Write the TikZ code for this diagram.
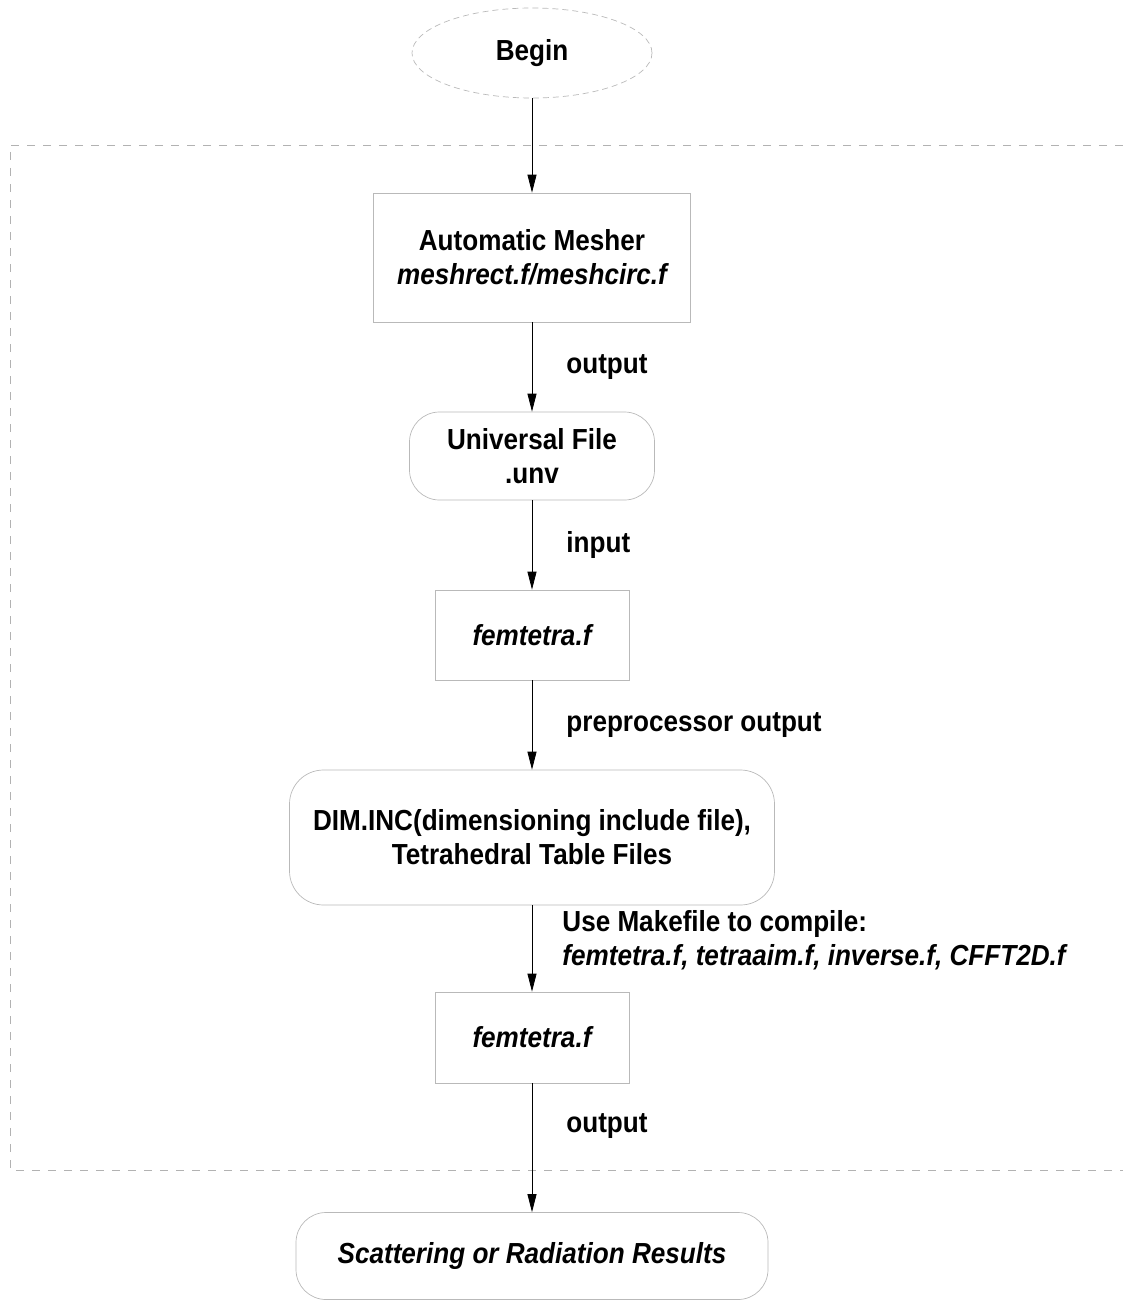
\documentclass[tikz,border=0pt]{standalone}
\usepackage{fontspec}
\setmainfont{Liberation Sans}[FakeStretch=0.9]
\usetikzlibrary{arrows.meta,shapes.geometric}

\begin{document}
\begin{tikzpicture}[x=0.5pt, y=-0.5pt,
		font=\fontsize{14.5}{17}\selectfont\bfseries,
		box_style/.style={rectangle,draw=gray!55,line width=0.35pt,align=center,minimum width=#1},
		round_style/.style={rectangle,rounded corners=15pt,draw=gray!55,line width=0.35pt,align=center,minimum width=#1},
		begin_style/.style={ellipse,draw=gray!55,densely dashed,line width=0.35pt,minimum width=120pt,minimum height=45pt},
		edge_style/.style={draw=black,line width=0.4pt,-{Triangle[length=9pt,width=4.5pt]}},
		label_style/.style={anchor=west,inner sep=0pt,xshift=17pt,align=left},
		frame_style/.style={draw=gray!60,dash pattern=on 4pt off 4pt,line width=0.35pt}]

		\useasboundingbox (0,0) rectangle (1123,1301);

		% dashed frame, open at the right
		\coordinate (f1) at (1123,145);
		\coordinate (f2) at (10,145);
		\coordinate (f3) at (10,1170);
		\coordinate (f4) at (1123,1170);
		\draw[frame_style] (f1) -- (f2) -- (f3) -- (f4);

		\node[begin_style] (begin) at (532,53) {Begin};
		\node[box_style=158.5pt, minimum height=64.5pt] (mesher) at (532,257.5)
			{Automatic Mesher\\ \itshape meshrect.f/meshcirc.f};
		\node[round_style=122.5pt, minimum height=44pt] (unv) at (532,456)
			{Universal File\\ .unv};
		\node[box_style=97pt, minimum height=45pt] (fem1) at (532,635) {\itshape femtetra.f};
		\node[round_style=242.5pt, minimum height=67.5pt, rounded corners=17pt] (dim) at (532,837.5)
			{DIM.INC(dimensioning include file),\\ Tetrahedral Table Files};
		\node[box_style=97pt, minimum height=45.5pt] (fem2) at (532,1037.5) {\itshape femtetra.f};
		\node[round_style=236pt, minimum height=43.5pt] (res) at (532,1256)
			{\itshape Scattering or Radiation Results};

		\draw[edge_style] (begin) edge (mesher);
		\draw[edge_style] (mesher) edge node[label_style]{output} (unv);
		\draw[edge_style] (unv) edge node[label_style]{input} (fem1);
		\draw[edge_style] (fem1) edge node[label_style,pos=0.5]{preprocessor output} (dim);
		\draw[edge_style] (dim) edge node[label_style,pos=0.4,xshift=-2pt]
			{Use Makefile to compile:\\ \itshape femtetra.f, tetraaim.f, inverse.f, CFFT2D.f} (fem2);
		\draw[edge_style] (fem2) edge node[label_style,pos=0.33]{output} (res);

\end{tikzpicture}
\end{document}
